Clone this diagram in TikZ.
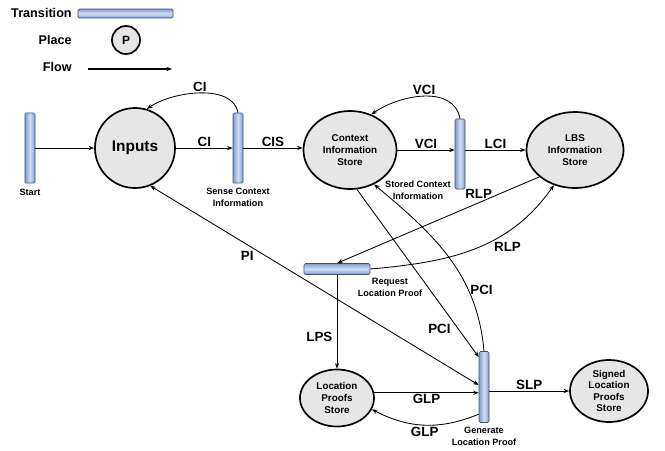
\documentclass[tikz,border=0pt]{standalone}
\usepackage{fontspec}
\setmainfont{Liberation Sans}
\usetikzlibrary{shapes.geometric,arrows.meta}

\definecolor{barblue}{RGB}{128,158,212}
\definecolor{barlight}{RGB}{208,222,245}
\definecolor{barline}{RGB}{70,80,100}
\definecolor{placegray}{RGB}{230,230,230}

\begin{document}
\begin{tikzpicture}[x=0.025cm, y=0.025cm, >={Stealth[length=4pt,width=3pt]},
    place/.style={ellipse, draw, line width=1.2pt, fill=placegray, align=center, inner sep=0pt, font=\bfseries\fontsize{7}{8.5}\selectfont},
    vtrans/.style={rectangle, rounded corners=1pt, draw=barline, left color=barblue, right color=barblue, middle color=barlight, minimum width=0.25cm, minimum height=1.75cm, inner sep=0pt},
    htrans/.style={rectangle, rounded corners=1pt, draw=barline, top color=barblue, bottom color=barblue, middle color=barlight, minimum height=0.25cm, inner sep=0pt},
    flow/.style={->, line width=0.6pt},
    arclabel/.style={font=\bfseries\fontsize{9.5}{10}\selectfont, inner sep=1pt},
    tlabel/.style={font=\bfseries\fontsize{6.5}{8.5}\selectfont, align=center, inner sep=0pt},
    legend/.style={font=\bfseries\fontsize{9}{10}\selectfont, anchor=east, inner sep=0pt}]
    \useasboundingbox (0,0) rectangle (665,-450);

    % legend
    \node[legend] (legtrans) at (72,-13) {Transition};
    \node[htrans, minimum width=2.375cm, minimum height=0.225cm] (legbar) at (125.5,-13.5) {};
    \node[legend] (legplace) at (72,-40) {Place};
    \node[place, circle, minimum size=0.7cm, font=\bfseries\fontsize{8.5}{10}\selectfont] (legp) at (126,-40) {P};
    \node[legend] (legflow) at (72,-67) {Flow};
    \coordinate (flowa) at (88,-69);
    \coordinate (flowb) at (172,-69);
    \draw[flow, line width=1.2pt] (flowa) -- (flowb);

    % places and transitions
    \node[vtrans] (start) at (30,-148) {};
    \node[tlabel] (startlbl) at (30,-192) {Start};
    \node[place, circle, minimum size=2cm, font=\bfseries\fontsize{11}{13}\selectfont] (inputs) at (135,-148) {Inputs};
    \node[vtrans] (sense) at (238,-148) {};
    \node[tlabel] (senselbl) at (238,-197) {Sense Context\\Information};
    \node[place, minimum width=2.325cm, minimum height=1.95cm] (cis) at (350,-150) {Context\\Information\\Store};
    \node[vtrans] (stored) at (460,-154) {};
    \node[tlabel] (storedlbl) at (418,-190) {Stored Context\\Information};
    \node[place, minimum width=2.425cm, minimum height=1.9cm] (lbs) at (575,-150) {LBS\\Information\\Store};
    \node[htrans, minimum width=1.65cm, minimum height=0.275cm] (request) at (337,-269) {};
    \node[tlabel] (requestlbl) at (390,-287) {Request\\Location Proof};
    \node[place, minimum width=1.85cm, minimum height=1.425cm] (lps) at (337,-398) {Location\\Proofs\\Store};
    \node[vtrans, minimum height=1.775cm] (generate) at (484,-387) {};
    \node[tlabel] (generatelbl) at (484,-436) {Generate\\Location Proof};
    \node[place, minimum width=1.95cm, minimum height=1.55cm, font=\bfseries\fontsize{7}{8}\selectfont] (signed) at (609,-391) {Signed\\Location\\Proofs\\Store};

    % flows
    \draw[flow] (start) -- (inputs);
    \draw[flow] (inputs) -- node[arclabel, above] {CI} (sense);
    \draw[flow] (sense.north) to[out=100, in=35, looseness=0.85] node[arclabel, above] {CI} (inputs.73);
    \draw[flow] (sense) -- node[arclabel, above] {CIS} (sense -| cis.west);
    \draw[flow] (cis.east) -- node[arclabel, above] {VCI} (cis.east -| stored.west);
    \draw[flow] (stored.north) to[out=100, in=35] node[arclabel, above] {VCI} (cis.59);
    \draw[flow] (stored.east |- lbs.west) -- node[arclabel, above] {LCI} (lbs.west);
    \draw[flow] (lbs.217) -- node[arclabel, pos=0.3, above=2pt] {RLP} (request.north);
    \draw[flow] (request.east) to[out=5, in=235] node[arclabel, pos=0.6, below right] {RLP} (lbs.239);
    \draw[flow] (request) -- node[arclabel, pos=0.66, left=2pt] {LPS} (lps);
    \draw[flow] (cis.-80) -- node[arclabel, pos=0.83, left=4pt] {PCI} (generate.100);
    \draw[flow] (generate.north) to[out=95, in=-40] node[arclabel, pos=0.3, right] {PCI} (cis.-55);
    \draw[flow, <->] (inputs.-68) -- node[arclabel, pos=0.32, below left] {PI} (generate.160);
    \draw[flow] (lps.8) -- node[arclabel, below] {GLP} (lps.8 -| generate.west);
    \draw[flow] (generate.-101) to[bend left=25] node[arclabel, below] {GLP} (lps.-18);
    \draw[flow] (generate.east |- signed.west) -- node[arclabel, above] {SLP} (signed.west);
\end{tikzpicture}
\end{document}
